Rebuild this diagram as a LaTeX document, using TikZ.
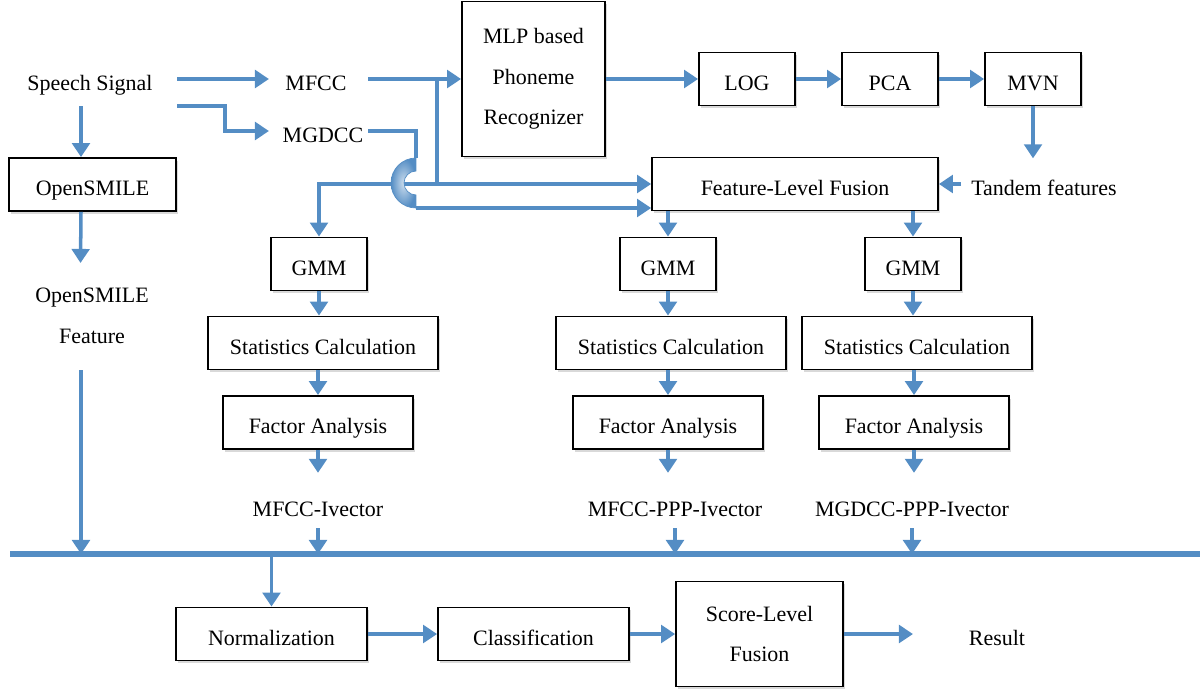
\documentclass[tikz,border=0pt]{standalone}
\usepackage{fontspec}
\setmainfont{Liberation Serif}
\usetikzlibrary{calc,arrows.meta,shadows}
\definecolor{flowblue}{RGB}{84,141,196}
\tikzset{myframe/.style={draw=black,line width=1pt,fill=white,drop shadow={shadow xshift=1pt,shadow yshift=-1.5pt,opacity=0.3}}}
\tikzset{mytext/.style={text height=13.5pt,text depth=0.5pt}}
\tikzset{mymulti/.style={align=center,font=\fontsize{12.5}{23}\selectfont}}
\tikzset{mybox/.style={myframe,mytext,minimum height=1.06cm}}
\tikzset{mybigbox/.style={myframe,mymulti}}
\tikzset{smallbox/.style={mybox,minimum width=1.92cm}}
\tikzset{myline/.style={flowblue,line width=2pt}}
\tikzset{myarrow/.style={myline,-{Triangle[length=8pt,width=10pt]}}}
\tikzset{mybus/.style={flowblue,line width=3pt}}

\begin{document}
\begin{tikzpicture}[x=0.02cm,y=-0.02cm,font=\fontsize{12.5}{15}\selectfont]
	\useasboundingbox (0,0) rectangle (1203,693);

	\node[mytext] (ss) at (90,79) {Speech Signal};
	\node[mytext] (mfcc) at (316,79) {MFCC};
	\node[mytext] (mgdcc) at (323,131) {MGDCC};
	\node[mybigbox,minimum width=2.86cm,minimum height=3.1cm] (mlp) at (533.5,79) {MLP based\\Phoneme\\Recognizer};
	\node[smallbox] (log) at (747,79) {LOG};
	\node[smallbox] (pca) at (890,79) {PCA};
	\node[smallbox] (mvn) at (1033,79) {MVN};
	\node[mybox,minimum width=3.34cm] (os) at (92.5,184.5) {OpenSMILE};
	\node[mymulti] (osf) at (92,316) {OpenSMILE\\Feature};
	\node[mybox,minimum width=5.72cm] (flf) at (795,184) {Feature-Level Fusion};
	\node[mytext] (tf) at (1044,184) {Tandem features};

	\node[smallbox] (gmm1) at (319,264) {GMM};
	\node[smallbox] (gmm2) at (668,264) {GMM};
	\node[smallbox] (gmm3) at (913,264) {GMM};
	\node[mybox,minimum width=4.6cm] (sc1) at (323,343) {Statistics Calculation};
	\node[mybox,minimum width=4.6cm] (sc2) at (671,343) {Statistics Calculation};
	\node[mybox,minimum width=4.6cm] (sc3) at (917,343) {Statistics Calculation};
	\node[mybox,minimum width=3.8cm] (fa1) at (318,422.5) {Factor Analysis};
	\node[mybox,minimum width=3.8cm] (fa2) at (668,422.5) {Factor Analysis};
	\node[mybox,minimum width=3.8cm] (fa3) at (914,422.5) {Factor Analysis};
	\node[mytext] (iv1) at (318,505) {MFCC-Ivector};
	\node[mytext] (iv2) at (675,505) {MFCC-PPP-Ivector};
	\node[mytext] (iv3) at (912,505) {MGDCC-PPP-Ivector};

	\node[mybox,minimum width=3.82cm] (norm) at (271.5,634) {Normalization};
	\node[mybox,minimum width=3.82cm] (cls) at (533.5,634) {Classification};
	\node[mybigbox,minimum width=3.34cm,minimum height=2.1cm] (slf) at (759.5,634) {Score-Level\\Fusion};
	\node[mytext] (res) at (997,634) {Result};

	\coordinate (busL) at (10,554);
	\coordinate (busR) at (1200,554);
	\draw[mybus] (busL) -- (busR);

	% speech signal to features
	\draw[myarrow] ($(ss)+(87,0)$) -- ($(mfcc)+(-47,0)$);
	\draw[myarrow] ($(ss)+(87,27)$) -- ++(48,0) |- ($(mgdcc)+(-54,0)$);
	\draw[myarrow] ($(ss)+(-9,27)$) -- ($(os.north)+(-11.5,0)$);
	\draw[myarrow] ($(os.south)+(-11.5,0)$) -- ($(osf)+(-11.5,-53)$);
	\draw[myarrow] ($(osf)+(-11,54)$) coordinate (of) -- (of |- busL);

	% tandem chain
	\draw[myarrow] ($(mfcc)+(52,0)$) -- (mlp.west);
	\draw[myarrow] (mlp.east) -- (log.west);
	\draw[myarrow] (log.east) -- (pca.west);
	\draw[myarrow] (pca.east) -- (mvn.west);
	\draw[myarrow] (mvn.south) -- ++(0,52);
	\draw[myarrow] ($(tf)+(-83,0)$) -- (flf.east);

	\coordinate (br) at (437,79);
	\coordinate (jn) at (437,184);
	\draw[myline] (br) -- (jn);
	\draw[myarrow] (jn) -- (flf.west);
	\draw[myarrow] (jn) -| (gmm1.north);

	% MGDCC jumps over the MFCC line
	\coordinate (hopT) at (416,158);
	\coordinate (hopB) at (416,208);
	\draw[myline] ($(mgdcc)+(45,0)$) -| (hopT);
	\draw[myarrow] (hopB) -- (flf.west |- hopB);
	\shade[inner color=flowblue!30!white,outer color=flowblue,draw=flowblue,line width=0.4pt]
		(hopT) arc[start angle=90,end angle=270,radius=0.5cm] -- ++(0,0.26cm)
		arc[start angle=270,end angle=90,radius=0.24cm] -- cycle;

	% i-vector columns
	\draw[myarrow] (gmm2.north |- flf.south) -- (gmm2.north);
	\draw[myarrow] (gmm3.north |- flf.south) -- (gmm3.north);
	\draw[myarrow] (gmm1.south) -- (gmm1.south |- sc1.north);
	\draw[myarrow] (gmm2.south) -- (gmm2.south |- sc2.north);
	\draw[myarrow] (gmm3.south) -- (gmm3.south |- sc3.north);
	\draw[myarrow] (fa1.north |- sc1.south) -- (fa1.north);
	\draw[myarrow] (fa2.north |- sc2.south) -- (fa2.north);
	\draw[myarrow] (fa3.north |- sc3.south) -- (fa3.north);
	\draw[myarrow] (fa1.south) -- ++(0,23);
	\draw[myarrow] (fa2.south) -- ++(0,23);
	\draw[myarrow] (fa3.south) -- ++(0,23);
	\draw[myarrow] ($(iv1)+(0,23)$) coordinate (v1) -- (v1 |- busL);
	\draw[myarrow] ($(iv2)+(0,23)$) coordinate (v2) -- (v2 |- busL);
	\draw[myarrow] ($(iv3)+(0,23)$) coordinate (v3) -- (v3 |- busL);

	% back end
	\draw[myarrow] (norm.north |- busL) -- (norm.north);
	\draw[myarrow] (norm.east) -- (cls.west);
	\draw[myarrow] (cls.east) -- (slf.west);
	\draw[myarrow] (slf.east) -- ($(res)+(-84,0)$);

\end{tikzpicture}
\end{document}
